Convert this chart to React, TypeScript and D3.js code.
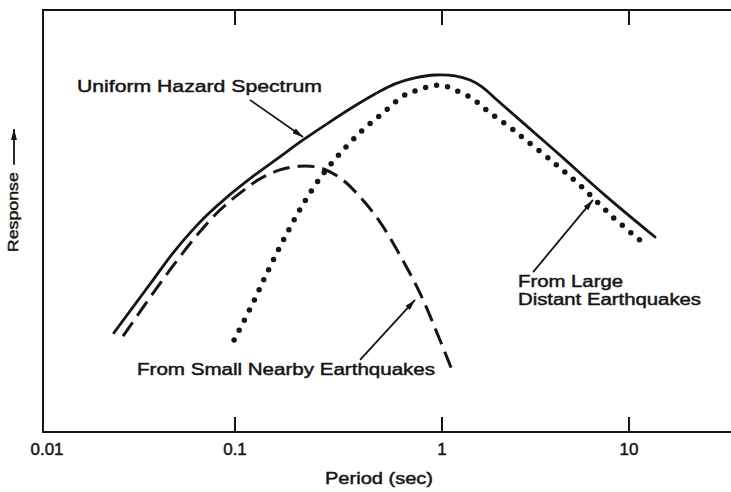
import React from "react";
import * as d3 from "d3";

const W = 731;
const H = 492;

// Axis ticks
const tickValues = [0.01, 0.1, 1, 10];
const tickLabels = ["0.01", "0.1", "1", "10"];
const frameTicks = [0.1, 1, 10];
const xAxisTitle = "Period (sec)";
const yAxisTitle = "Response";

// Uniform Hazard Spectrum (solid)
const uhsPeriod = [0.0234, 0.0294, 0.0374, 0.0475, 0.0583, 0.0715, 0.0921, 0.1208, 0.1615, 0.2132, 0.2877, 0.38, 0.4743, 0.5929, 0.741, 0.925, 1.174, 1.412, 1.636, 1.92, 2.612, 4.275, 7.53, 13.77];
const uhsResponse = [23.5, 29.6, 36.0, 42.4, 47.2, 51.4, 55.9, 60.4, 64.9, 69.2, 73.5, 77.3, 80.1, 82.5, 83.9, 84.6, 84.4, 83.4, 81.8, 79.1, 73.9, 65.6, 55.9, 46.2];

// From small nearby earthquakes (dashed)
const smallPeriod = [0.0261, 0.036, 0.0487, 0.0641, 0.0835, 0.1057, 0.1321, 0.1649, 0.2061, 0.2577, 0.322, 0.402, 0.501, 0.6263, 0.7828, 0.9459, 1.131];
const smallResponse = [22.7, 31.8, 40.0, 46.9, 52.6, 56.6, 60.0, 62.1, 63.0, 62.6, 60.2, 55.7, 49.8, 41.9, 32.9, 23.5, 14.7];

// From large distant earthquakes (dotted)
const largePeriod = [0.0989, 0.1208, 0.1444, 0.1744, 0.2132, 0.266, 0.3327, 0.415, 0.519, 0.648, 0.741, 0.8558, 1.0, 1.174, 1.377, 1.557, 1.784, 2.043, 2.368, 2.676, 3.92, 5.67, 8.21, 11.9];
const largeResponse = [21.8, 30.1, 38.2, 46.2, 54.0, 61.1, 66.8, 71.6, 75.6, 79.6, 80.8, 81.8, 82.2, 81.0, 79.6, 78.0, 75.8, 73.9, 71.8, 69.9, 64.0, 57.8, 50.9, 44.8];

// Annotation labels
const uhsLabel = ["Uniform Hazard Spectrum"];
const smallLabel = ["From Small Nearby Earthquakes"];
const largeLabel = ["From Large", "Distant Earthquakes"];

// Arrow endpoints in data space [period, response]
const uhsArrow = [[0.118, 78.7], [0.2132, 69.9]];
const smallArrow = [[0.402, 17.1], [0.741, 31.3]];
const largeArrow = [[3.07, 37.9], [6.42, 55.0]];

const FONT = "'Liberation Sans', Arial, Helvetica, sans-serif";
const INK = "#151515";

export default function App() {
  const x = d3
    .scaleLog()
    .domain([0.01, 0.1, 1, 10, 35])
    .range([43, 235, 442, 629, 731]);
  const y = d3.scaleLinear().domain([0, 100]).range([432, 10]);

  const line = d3
    .line<[number, number]>()
    .x((d) => x(d[0]))
    .y((d) => y(d[1]))
    .curve(d3.curveCatmullRom.alpha(0.5));

  const zip = (a: number[], b: number[]) => a.map((v, i) => [v, b[i]] as [number, number]);

  const x0 = x(0.01);
  const xEnd = W + 5;
  const yTop = y(100);
  const yBot = y(0);

  const arrow = (a: number[][], key: string) => (
    <line
      key={key}
      x1={x(a[0][0])}
      y1={y(a[0][1])}
      x2={x(a[1][0])}
      y2={y(a[1][1])}
      stroke={INK}
      strokeWidth={1.8}
      markerEnd="url(#ah)"
    />
  );

  const textProps = {
    fontFamily: FONT,
    fill: INK,
    stroke: INK,
    strokeWidth: 0.45,
  };

  return (
    <svg
      width={W}
      height={H}
      style={{ position: "absolute", left: 0, top: 0, background: "#fff" }}
    >
      <defs>
        <marker
          id="ah"
          viewBox="0 0 11 6"
          refX={11}
          refY={3}
          markerWidth={11}
          markerHeight={6}
          markerUnits="userSpaceOnUse"
          orient="auto"
        >
          <path d="M0,0L11,3L0,6z" fill={INK} />
        </marker>
      </defs>
      <rect x={0} y={0} width={W} height={H} fill="#fff" />

      {/* frame */}
      <path
        d={`M${xEnd},${yTop}H${x0}V${yBot}H${xEnd}`}
        fill="none"
        stroke={INK}
        strokeWidth={2}
      />
      {frameTicks.map((t) => (
        <g key={"t" + t}>
          <line x1={x(t)} x2={x(t)} y1={yTop} y2={yTop + 15} stroke={INK} strokeWidth={2} />
          <line x1={x(t)} x2={x(t)} y1={yBot} y2={yBot - 15} stroke={INK} strokeWidth={2} />
        </g>
      ))}

      {/* tick labels */}
      {tickValues.map((t, i) => (
        <text
          key={"l" + t}
          x={x(t) + (i === 0 ? 4 : 0)}
          y={455}
          textAnchor="middle"
          fontSize={17}
          {...textProps}
        >
          {tickLabels[i]}
        </text>
      ))}
      <text x={379} y={484} textAnchor="middle" fontSize={16} textLength={108} lengthAdjust="spacingAndGlyphs" {...textProps}>
        {xAxisTitle}
      </text>

      {/* y axis title with arrow */}
      <text
        transform={`translate(18,${y(52.1)}) rotate(-90)`}
        textAnchor="middle"
        fontSize={15}
        textLength={80}
        lengthAdjust="spacingAndGlyphs"
        {...textProps}
      >
        {yAxisTitle}
      </text>
      <line x1={14} x2={14} y1={y(63.3)} y2={y(71.8)} stroke={INK} strokeWidth={1.8} markerEnd="url(#ah)" />

      {/* curves */}
      <path
        d={line(zip(uhsPeriod, uhsResponse)) || ""}
        fill="none"
        stroke={INK}
        strokeWidth={2.8}
        strokeLinecap="round"
      />
      <path
        d={line(zip(smallPeriod, smallResponse)) || ""}
        fill="none"
        stroke={INK}
        strokeWidth={3}
        strokeDasharray="17 8"
      />
      <path
        d={line(zip(largePeriod, largeResponse)) || ""}
        fill="none"
        stroke={INK}
        strokeWidth={5.5}
        strokeLinecap="round"
        strokeDasharray="0 11.2"
      />

      {/* annotations */}
      {arrow(uhsArrow, "a1")}
      {arrow(smallArrow, "a2")}
      {arrow(largeArrow, "a3")}

      <text x={x(0.01503)} y={y(80.6)} fontSize={16} textLength={245} lengthAdjust="spacingAndGlyphs" {...textProps}>
        {uhsLabel[0]}
      </text>
      <text x={x(0.0309)} y={y(13.5)} fontSize={16} textLength={298} lengthAdjust="spacingAndGlyphs" {...textProps}>
        {smallLabel[0]}
      </text>
      <text x={x(2.55)} y={y(34.4)} fontSize={16} textLength={105} lengthAdjust="spacingAndGlyphs" {...textProps}>
        {largeLabel[0]}
      </text>
      <text x={x(2.55)} y={y(30.1)} fontSize={16} textLength={183} lengthAdjust="spacingAndGlyphs" {...textProps}>
        {largeLabel[1]}
      </text>
    </svg>
  );
}
